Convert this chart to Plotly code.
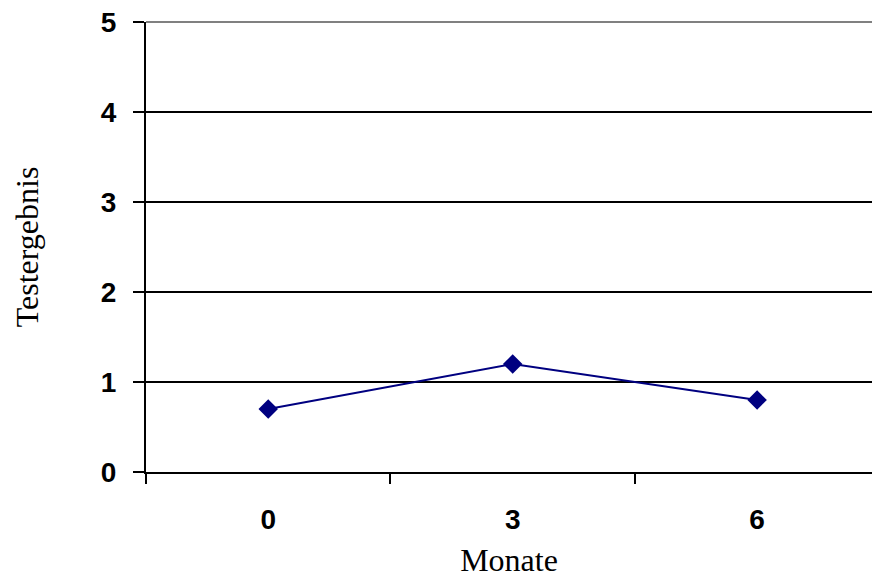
import plotly.graph_objects as go

months = ["0", "3", "6"]
scores = [0.7, 1.2, 0.8]
y_ticks = [0, 1, 2, 3, 4, 5]

fig = go.Figure()
fig.add_trace(go.Scatter(
    x=months, y=scores, mode="lines+markers",
    line=dict(color="#000080", width=2),
    marker=dict(symbol="diamond", size=15, color="#000080"),
    showlegend=False,
))

fig.update_layout(
    width=872, height=580,
    margin=dict(l=146, r=0, t=22, b=108),
    plot_bgcolor="white", paper_bgcolor="white",
    xaxis=dict(
        type="category", range=[-0.5, 2.47],
        tickson="boundaries", ticks="outside", ticklen=10, tickwidth=2, tickcolor="black",
        ticklabelstandoff=21,
        showgrid=False, showline=True, linecolor="black", linewidth=2,
        tickfont=dict(family="Liberation Sans, Arial", size=28, color="black", weight="bold"),
        title=dict(text="Monate", font=dict(family="Liberation Serif, Times New Roman", size=32, color="black"), standoff=15),
    ),
    yaxis=dict(
        range=[0, 5], tickvals=y_ticks, ticks="outside", ticklen=11, tickwidth=2, tickcolor="black",
        ticklabelstandoff=11,
        showgrid=True, gridcolor="black", gridwidth=2,
        showline=True, linecolor="black", linewidth=2, zeroline=False,
        tickfont=dict(family="Liberation Sans, Arial", size=28, color="black", weight="bold"),
        title=dict(text="Testergebnis", font=dict(family="Liberation Serif, Times New Roman", size=32, color="black"), standoff=53),
    ),
    shapes=[dict(type="line", xref="paper", yref="paper", x0=0, x1=1, y0=1, y1=1,
                 line=dict(color="#808080", width=2), layer="above")],
)

fig.write_html("out.html")
